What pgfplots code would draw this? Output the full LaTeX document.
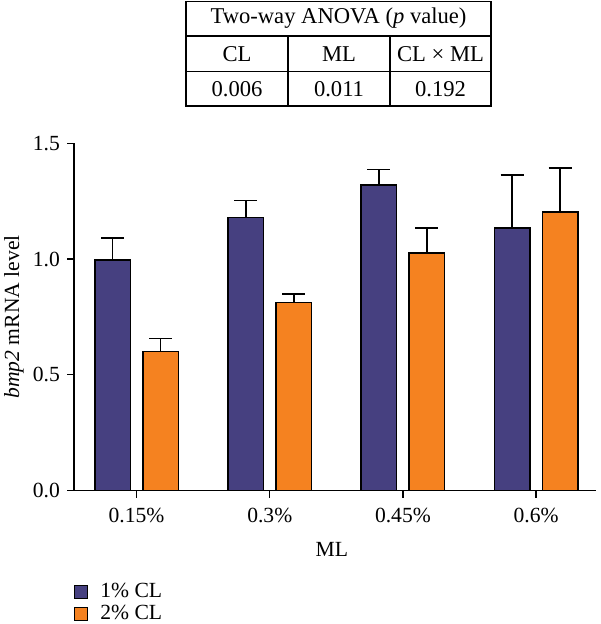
\documentclass[border=0pt]{standalone}
\usepackage{pgfplots}
\pgfplotsset{compat=1.18}
\usepackage{fontspec}
\setmainfont{Liberation Serif}
\definecolor{cblue}{RGB}{70,64,128}
\definecolor{corange}{RGB}{245,130,32}
\begin{document}
\begin{tikzpicture}
\useasboundingbox (0,0) rectangle (300pt,312pt);
\begin{scope}[x=0.5pt,y=-0.5pt,shift={(0pt,312pt)},line width=0.55pt]
  \draw (186,1.5) rectangle (491,106);
  \draw (186,36)--(491,36);
  \draw (186,71.5)--(491,71.5);
  \draw (288,36)--(288,106);
  \draw (390,36)--(390,106);
  \begin{scope}[every node/.style={font=\fontsize{11.3}{13}\selectfont,inner sep=0pt}]
  \node at (338.5,18.5) {Two-way ANOVA (\textit{p} value)};
  \node at (237,54) {CL};
  \node at (339,54) {ML};
  \node at (440.5,54) {CL × ML};
  \node at (237,89) {0.006};
  \node at (339,89) {0.011};
  \node at (440.5,89) {0.192};
  \end{scope}
\end{scope}
\begin{axis}[
  at={(37pt,66.75pt)}, anchor=south west,
  scale only axis, width=261pt, height=173.6pt,
  xmin=-0.47, xmax=3.45, ymin=0, ymax=1.5,
  axis x line*=bottom, axis y line*=left,
  axis line style={line width=0.7pt,-},
  every tick/.style={black,line width=0.7pt},
  tick align=outside, major tick length=3.5pt,
  xtick={0,1,2,3}, xticklabels={0.15\%,0.3\%,0.45\%,0.6\%},
  ytick={0,0.5,1,1.5}, yticklabels={0.0,0.5,1.0,1.5},
  tick label style={font=\fontsize{10.8}{12}\selectfont},
  xticklabel style={yshift=-2pt},
  xlabel={ML}, ylabel={\textit{bmp2} mRNA level},
  label style={font=\fontsize{10.8}{12}\selectfont},
  xlabel style={at={(axis description cs:0.494,-0.171)},anchor=center},
  ylabel style={at={(axis description cs:-0.115,0.5)},anchor=center},
  ybar, bar width=17.75pt,
  legend style={at={(axis description cs:0,-0.268)}, anchor=north west, draw=none, fill=none,
    inner sep=0pt, outer sep=0pt, row sep=2.2pt, font=\fontsize{10.8}{12}\selectfont,
    nodes={inner sep=0pt}},
  legend cell align=left,
  legend image code/.code={\draw[#1,line width=0.6pt] (0pt,-3.3pt) rectangle (6.6pt,3.3pt);},
  every axis plot/.append style={draw=black,line width=0.7pt},
  clip=false,
]
\addplot[fill=cblue, bar shift=-12pt,
  error bars/.cd, y dir=plus, y explicit,
  error mark options={rotate=90,mark size=5.75pt,line width=0.8pt,black},
  error bar style={line width=0.8pt,black}]
  coordinates {(0,0.996) +- (0,0.095) (1,1.180) +- (0,0.073) (2,1.319) +- (0,0.067) (3,1.134) +- (0,0.229)};
\addlegendentry{\hspace{6pt}1\% CL}
\addplot[fill=corange, bar shift=12pt,
  error bars/.cd, y dir=plus, y explicit,
  error mark options={rotate=90,mark size=5.75pt,line width=0.8pt,black},
  error bar style={line width=0.8pt,black}]
  coordinates {(0,0.600) +- (0,0.057) (1,0.812) +- (0,0.038) (2,1.026) +- (0,0.108) (3,1.204) +- (0,0.189)};
\addlegendentry{\hspace{6pt}2\% CL}
\end{axis}
\end{tikzpicture}
\end{document}
